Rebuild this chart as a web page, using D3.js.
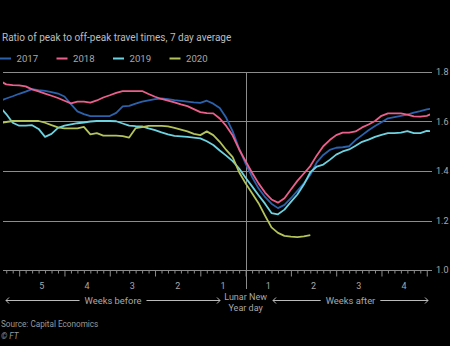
<!DOCTYPE html>
<html>
<head>
<meta charset="utf-8">
<script src="https://cdn.jsdelivr.net/npm/d3@7"></script>
<style>
  html, body { margin: 0; padding: 0; background: #000; }
  svg { display: block; }
  text { font-family: Roboto, "Noto Sans", sans-serif; }
</style>
</head>
<body>
<svg id="chart" width="450" height="346"></svg>
<script>
// Days relative to Lunar New Year, one reading per day
const days = d3.range(-38, 30);

const s2017 = [1.683,1.693,1.702,1.712,1.721,1.731,1.727,1.724,1.719,1.713,1.701,1.670,1.641,1.630,1.622,1.622,1.622,1.622,1.635,1.661,1.663,1.672,1.680,1.685,1.690,1.693,1.690,1.686,1.683,1.680,1.677,1.675,1.684,1.672,1.655,1.615,1.560,1.490,1.430,1.376,1.330,1.295,1.268,1.250,1.263,1.290,1.320,1.350,1.385,1.435,1.465,1.485,1.494,1.496,1.500,1.525,1.545,1.565,1.582,1.597,1.613,1.618,1.623,1.628,1.636,1.642,1.649,1.653];
const s2018 = [1.764,1.750,1.747,1.746,1.742,1.730,1.722,1.713,1.704,1.695,1.684,1.673,1.680,1.680,1.676,1.685,1.697,1.706,1.716,1.723,1.723,1.723,1.723,1.711,1.700,1.691,1.684,1.677,1.669,1.662,1.650,1.638,1.634,1.633,1.612,1.582,1.543,1.487,1.440,1.393,1.350,1.313,1.285,1.272,1.290,1.325,1.360,1.390,1.420,1.463,1.500,1.525,1.545,1.555,1.555,1.560,1.576,1.588,1.602,1.623,1.633,1.633,1.633,1.628,1.621,1.620,1.623,1.633];
const s2019 = [1.660,1.630,1.595,1.583,1.583,1.585,1.570,1.538,1.550,1.574,1.583,1.588,1.593,1.596,1.600,1.602,1.602,1.602,1.601,1.592,1.583,1.581,1.580,1.572,1.565,1.556,1.548,1.542,1.540,1.538,1.535,1.532,1.520,1.505,1.483,1.462,1.440,1.410,1.373,1.338,1.302,1.268,1.230,1.225,1.244,1.275,1.305,1.345,1.395,1.418,1.426,1.445,1.466,1.479,1.487,1.502,1.518,1.527,1.538,1.546,1.553,1.553,1.555,1.561,1.553,1.553,1.562,1.560];
// 2020 readings stop ten days after the holiday
const s2020 = [1.593,1.598,1.602,1.602,1.602,1.602,1.602,1.595,1.585,1.576,1.572,1.572,1.572,1.578,1.548,1.553,1.543,1.543,1.543,1.541,1.535,1.573,1.577,1.582,1.582,1.582,1.580,1.574,1.567,1.560,1.550,1.545,1.560,1.545,1.518,1.485,1.456,1.395,1.350,1.310,1.270,1.220,1.172,1.150,1.138,1.135,1.133,1.136,1.141];

const seriesNames = ["2017", "2018", "2019", "2020"];
const seriesColors = ["#2b62ad", "#eb5f8c", "#6dd3e1", "#b4c35a"];
const seriesValues = [s2017, s2018, s2019, s2020];

const yTicks = [1.0, 1.2, 1.4, 1.6, 1.8];
const weeksBefore = [5, 4, 3, 2, 1];
const weeksAfter = [1, 2, 3, 4];

const svg = d3.select("#chart");

const x = d3.scaleLinear().domain([-37.5, 28.5]).range([3, 430]);
const y = d3.scaleLinear().domain([1.0, 1.8]).range([270, 72]);

const grey = "#8c8c8c";
const textGrey = "#a8a8a8";

// Title
svg.append("text")
  .attr("x", 2).attr("y", 40.5)
  .attr("fill", "#bdbdbd")
  .attr("font-size", 10)
  .text("Ratio of peak to off-peak travel times, 7 day average");

// Legend
const legend = svg.append("g");
seriesNames.forEach((name, i) => {
  const g = legend.append("g").attr("transform", `translate(${i * 56.5},58.5)`);
  g.append("line").attr("x1", 0).attr("x2", 11).attr("y1", 0).attr("y2", 0)
    .attr("stroke", seriesColors[i]).attr("stroke-width", 2);
  g.append("text").attr("x", 16.5).attr("y", 3.4)
    .attr("fill", textGrey).attr("font-size", 9.6).text(name);
});

// Horizontal gridlines and right-hand value labels
svg.append("g").selectAll("line").data(yTicks).join("line")
  .attr("x1", 3).attr("x2", 432)
  .attr("y1", d => Math.round(y(d)) + 0.5).attr("y2", d => Math.round(y(d)) + 0.5)
  .attr("stroke", grey).attr("stroke-width", 1);

svg.append("g").selectAll("text").data(yTicks).join("text")
  .attr("x", 436).attr("y", d => y(d) + 3.2)
  .attr("fill", textGrey).attr("font-size", 9)
  .text(d => d.toFixed(1));

// Daily ticks along the baseline, longer at week boundaries
const axis = d3.axisBottom(x)
  .tickValues(d3.range(-37, 29))
  .tickSize(3)
  .tickFormat("");
const axisG = svg.append("g").attr("transform", `translate(0,${Math.round(y(1.0)) + 0.5})`).call(axis);
axisG.select(".domain").remove();
axisG.selectAll(".tick line")
  .attr("stroke", grey)
  .attr("y2", d => d % 7 === 0 ? 6 : 3);

// Lunar New Year marker
svg.append("line")
  .attr("x1", Math.round(x(0)) + 0.5).attr("x2", Math.round(x(0)) + 0.5)
  .attr("y1", y(1.8)).attr("y2", 289)
  .attr("stroke", grey).attr("stroke-width", 1);

// Week numbers, centred in each week
svg.append("g").selectAll("text").data(weeksBefore).join("text")
  .attr("x", d => x(-(d - 0.5) * 7)).attr("y", 289)
  .attr("text-anchor", "middle").attr("fill", textGrey).attr("font-size", 9)
  .text(d => d);
svg.append("g").selectAll("text").data(weeksAfter).join("text")
  .attr("x", d => x((d - 0.5) * 7)).attr("y", 289)
  .attr("text-anchor", "middle").attr("fill", textGrey).attr("font-size", 9)
  .text(d => d);

// Series lines
const lineGen = d3.line()
  .x((d, i) => x(days[i]))
  .y(d => y(d));

svg.append("defs").append("clipPath").attr("id", "plotClip")
  .append("rect").attr("x", 3).attr("y", 0).attr("width", 427).attr("height", 346);

const plot = svg.append("g").attr("clip-path", "url(#plotClip)");
seriesValues.forEach((vals, i) => {
  plot.append("path")
    .datum(vals)
    .attr("fill", "none")
    .attr("stroke", seriesColors[i])
    .attr("stroke-width", 1.8)
    .attr("stroke-linejoin", "round")
    .attr("d", lineGen);
});

// Direction arrows under the axis
const arrowY = 300.5;
function arrow(x1, x2, label) {
  const g = svg.append("g");
  const t = g.append("text")
    .attr("x", (x1 + x2) / 2).attr("y", arrowY + 3.3)
    .attr("text-anchor", "middle").attr("fill", textGrey).attr("font-size", 9.4)
    .text(label);
  const w = t.node().getComputedTextLength();
  const mid = (x1 + x2) / 2;
  g.append("line").attr("x1", x1).attr("x2", mid - w / 2 - 5)
    .attr("y1", arrowY).attr("y2", arrowY).attr("stroke", "#bbb").attr("stroke-width", 1);
  g.append("line").attr("x1", mid + w / 2 + 5).attr("x2", x2)
    .attr("y1", arrowY).attr("y2", arrowY).attr("stroke", "#bbb").attr("stroke-width", 1);
  g.append("path")
    .attr("d", `M${x1 + 3},${arrowY - 3}L${x1},${arrowY}L${x1 + 3},${arrowY + 3}`)
    .attr("fill", "none").attr("stroke", "#bbb").attr("stroke-width", 1);
  g.append("path")
    .attr("d", `M${x2 - 3},${arrowY - 3}L${x2},${arrowY}L${x2 - 3},${arrowY + 3}`)
    .attr("fill", "none").attr("stroke", "#bbb").attr("stroke-width", 1);
}
arrow(6, 220, "Weeks before");
arrow(273, 428, "Weeks after");

svg.append("text")
  .attr("x", x(0)).attr("y", 299.5)
  .attr("text-anchor", "middle").attr("fill", textGrey).attr("font-size", 9)
  .text("Lunar New");
svg.append("text")
  .attr("x", x(0)).attr("y", 310.5)
  .attr("text-anchor", "middle").attr("fill", textGrey).attr("font-size", 9)
  .text("Year day");

// Footer
svg.append("text")
  .attr("x", 1).attr("y", 327)
  .attr("fill", "#9a9a9a").attr("font-size", 8.2)
  .text("Source: Capital Economics");
svg.append("text")
  .attr("x", 1).attr("y", 339)
  .attr("fill", "#9a9a9a").attr("font-size", 8.2)
  .attr("font-style", "italic")
  .text("© FT");
</script>
</body>
</html>
